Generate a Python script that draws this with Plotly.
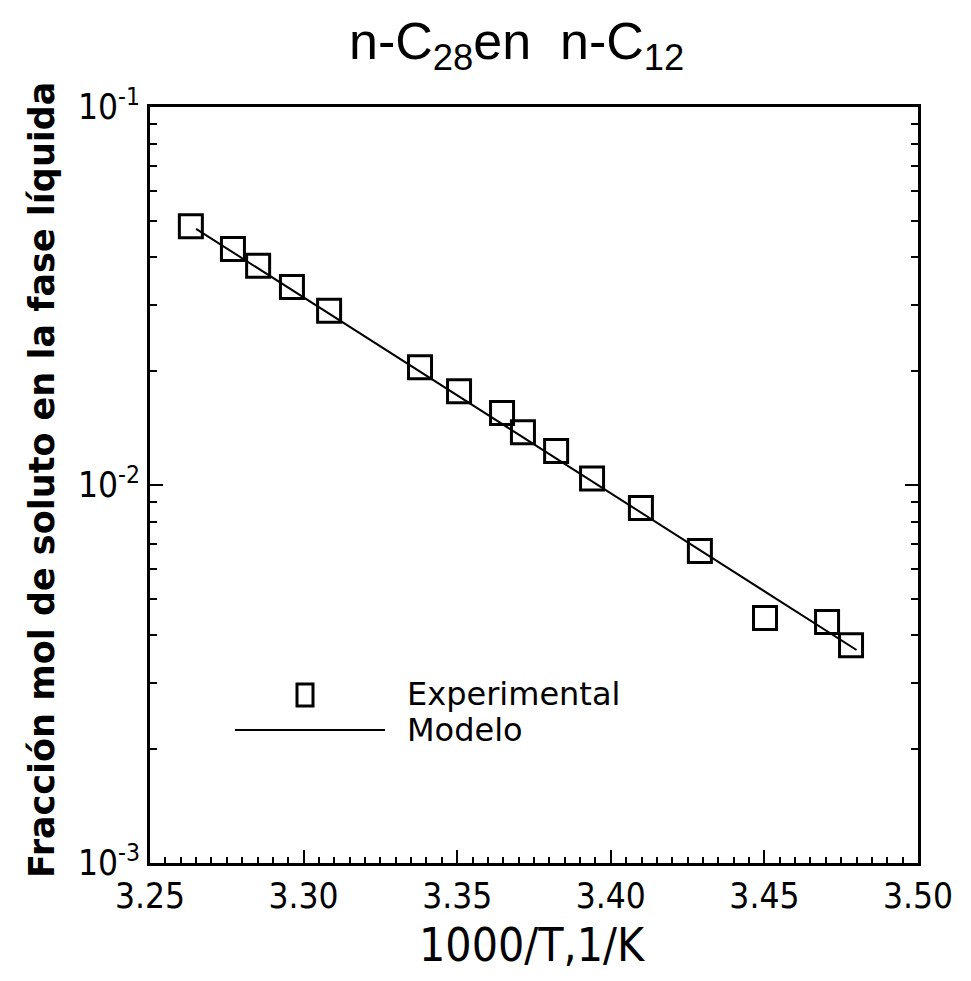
import plotly.graph_objects as go

x_exp = [3.2633, 3.2770, 3.2852, 3.2962, 3.3083, 3.3379, 3.3506, 3.3646,
         3.3714, 3.3822, 3.3939, 3.4098, 3.4290, 3.4502, 3.4704, 3.4782]
y_exp = [0.0484, 0.0421, 0.0380, 0.0334, 0.0289, 0.0205, 0.0177, 0.0155,
         0.0138, 0.0123, 0.0104, 0.00869, 0.00669, 0.00445, 0.00434, 0.00377]

# Model curve
x_model = [3.265, 3.48]
y_model = [0.0476, 0.00366]

x_ticks = [3.25, 3.30, 3.35, 3.40, 3.45, 3.50]
x_tick_labels = ["3.25", "3.30", "3.35", "3.40", "3.45", "3.50"]
y_ticks = [0.001, 0.01, 0.1]
y_tick_labels = ["10<sup>-3</sup>", "10<sup>-2</sup>", "10<sup>-1</sup>"]

W, H = 971, 981
L, R, T, B = 150, 918, 107, 863
narrow = "Liberation Sans Narrow, DejaVu Sans Condensed, Arial Narrow, sans-serif"


def px(xp):
    return (xp - L) / (R - L)


def py(yp):
    return (B - yp) / (B - T)


fig = go.Figure()
fig.add_trace(go.Scatter(x=x_model, y=y_model, mode="lines",
                         line=dict(color="black", width=2), showlegend=False))
fig.add_trace(go.Scatter(x=x_exp, y=y_exp, mode="markers",
                         marker=dict(symbol="square-open", size=23,
                                     color="black", line=dict(width=3, color="black")),
                         showlegend=False))

fig.update_layout(
    width=W, height=H,
    margin=dict(l=L, r=W - R, t=T, b=H - B),
    paper_bgcolor="white", plot_bgcolor="white",
    font=dict(family=narrow, color="black"),
)

fig.update_xaxes(
    range=[3.25, 3.50], tickvals=x_ticks, ticktext=x_tick_labels,
    ticks="inside", ticklen=13, tickwidth=2, tickcolor="black",
    minor=dict(dtick=0.005, ticks="inside", ticklen=6, tickwidth=2, tickcolor="black"),
    showline=True, linewidth=3, linecolor="black", mirror=True,
    showgrid=False, zeroline=False,
    tickfont=dict(family=narrow, size=35, color="black"),
)
fig.update_yaxes(
    type="log", range=[-3, -1], tickvals=y_ticks, ticktext=y_tick_labels,
    ticks="inside", ticklen=13, tickwidth=2, tickcolor="black",
    minor=dict(dtick="D1", ticks="inside", ticklen=7, tickwidth=2, tickcolor="black"),
    showline=True, linewidth=3, linecolor="black", mirror="ticks",
    showgrid=False, zeroline=False,
    tickfont=dict(family=narrow, size=35, color="black"),
)

annotations = [
    dict(text="n-C<sub>28</sub>en  n-C<sub>12</sub>", xref="paper", yref="paper",
         x=px(516), y=py(45), xanchor="center", yanchor="middle", showarrow=False,
         font=dict(family="Liberation Sans, Arial, sans-serif", size=52, color="black")),
    dict(text="1000/T,1/K", xref="paper", yref="paper",
         x=px(532), y=py(945), xanchor="center", yanchor="middle", showarrow=False,
         font=dict(family=narrow, size=46, color="black")),
    dict(text="<b>Fracción mol de soluto en la fase líquida</b>", xref="paper", yref="paper",
         x=px(42), y=py(480), xanchor="center", yanchor="middle", textangle=-90,
         showarrow=False, font=dict(family="DejaVu Sans, sans-serif", size=35, color="black")),
    dict(text="Experimental", xref="paper", yref="paper",
         x=px(405), y=py(694), xanchor="left", yanchor="middle", showarrow=False,
         font=dict(family="DejaVu Sans, sans-serif", size=32, color="black")),
    dict(text="Modelo", xref="paper", yref="paper",
         x=px(405), y=py(730), xanchor="left", yanchor="middle", showarrow=False,
         font=dict(family="DejaVu Sans, sans-serif", size=32, color="black")),
]
shapes = [
    dict(type="rect", xref="paper", yref="paper",
         x0=px(297), x1=px(313), y0=py(684), y1=py(706),
         line=dict(color="black", width=3)),
    dict(type="line", xref="paper", yref="paper",
         x0=px(235), x1=px(385), y0=py(730), y1=py(730),
         line=dict(color="black", width=2)),
]
fig.update_layout(annotations=annotations, shapes=shapes)

fig.write_html("out.html")
